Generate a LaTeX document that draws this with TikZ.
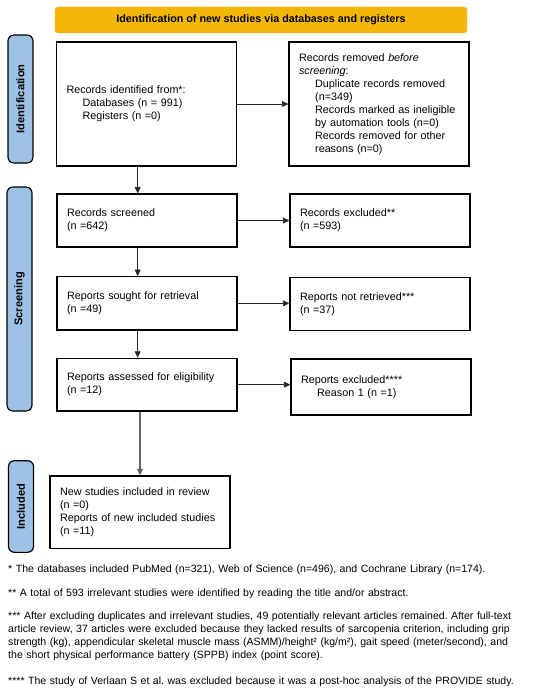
\documentclass[tikz,border=0pt]{standalone}
\usepackage{fontspec}
\setmainfont{Liberation Sans}
\usetikzlibrary{arrows.meta}
\definecolor{headgold}{RGB}{243,183,8}
\definecolor{headedge}{RGB}{222,176,60}
\definecolor{sideblue}{RGB}{158,194,229}
\newcommand{\ind}{\hspace*{1.5em}}
\frenchspacing
\begin{document}
\begin{tikzpicture}[
    txt/.style={font=\fontsize{9.2}{11.1}\selectfont},
    box/.style={txt,draw,line width=1pt,text width=4.8cm,inner xsep=0.3cm,
        inner ysep=0.1cm,align=left,minimum height=#1},
    box/.default=1.6cm,
    phase/.style={txt,font=\fontsize{9.5}{11}\selectfont\bfseries,draw,line width=1pt,
        fill=sideblue,rounded corners=0.18cm,rotate=90,minimum height=0.75cm,
        minimum width=#1,inner sep=0},
    note/.style={font=\fontsize{9}{11.1}\selectfont,anchor=base west,text width=16cm,
        align=left,inner sep=0},
    arr/.style={-{Triangle[length=5.5pt,width=5pt]},black!85,line width=0.6pt}]
    \useasboundingbox (0,0) rectangle (16.5,-20.76);
    % header and phase labels
    \node[txt,font=\fontsize{9.2}{11}\selectfont\bfseries,fill=headgold,draw=headedge,
        rounded corners=0.1cm,minimum width=12.36cm,minimum height=0.78cm,inner sep=0]
        (head) at (7.83,-0.6) {Identification of new studies via databases and registers};
    \node[phase=3.84cm] (lid) at (0.615,-2.97) {Identification};
    \node[phase=6.72cm] (lsc) at (0.585,-8.97) {Screening};
    \node[phase=2.75cm] (linc) at (0.63,-15.195) {Included};
    % left column
    \node[box=3.72cm] (b1) at (4.395,-3.12)
        {Records identified from*:\\ \ind Databases (n = 991)\\ \ind Registers (n =0)};
    \node[box=1.59cm] (b3) at (4.41,-6.615) {Records screened\\ (n =642)};
    \node[box] (b5) at (4.41,-9.1) {Reports sought for retrieval\\ (n =49)};
    \node[box=1.58cm] (b7) at (4.41,-11.54) {Reports assessed for eligibility\\ (n =12)};
    \node[box=2.18cm] (b9) at (4.2,-15.37)
        {New studies included in review\\ (n =0)\\ Reports of new included studies\\ (n =11)};
    % right column
    \node[box=3.72cm] (b2) at (11.37,-3.12)
        {Records removed \textit{before}\\ \textit{screening}:\\ \ind Duplicate records removed\\
        \ind (n=349)\\ \ind Records marked as ineligible\\ \ind by automation tools (n=0)\\
        \ind Records removed for other\\ \ind reasons (n=0)};
    \node[box=1.59cm] (b4) at (11.4,-6.615) {Records excluded**\\ (n =593)};
    \node[box] (b6) at (11.4,-9.125) {Reports not retrieved***\\ (n =37)};
    \node[box=1.68cm] (b8) at (11.43,-11.61) {Reports excluded****\\ \ind Reason 1 (n =1)};
    % connectors
    \coordinate (col) at (4.13,0);
    \draw[arr] (b1.south -| col) -- (b3.north -| col);
    \draw[arr] (b3.south -| col) -- (b5.north -| col);
    \draw[arr] (b5.south -| col) -- (b7.north -| col);
    \draw[arr,black!60,line width=0.9pt] (b7.south -| b9.north) -- (b9.north);
    \draw[arr] (b1.east) -- (b1.east -| b2.west);
    \draw[arr] (b3.east) -- (b3.east -| b4.west);
    \draw[arr] (b5.east) -- (b5.east -| b6.west);
    \draw[arr] (b7.east) -- (b7.east -| b8.west);
    % footnotes
    \node[note] (n1) at (0.24,-17.16)
        {* The databases included PubMed (n=321), Web of Science (n=496), and Cochrane Library (n=174).};
    \node[note] (n2) at (0.24,-17.88)
        {** A total of 593 irrelevant studies were identified by reading the title and/or abstract.};
    \node[note] (n3) at (0.24,-18.57)
        {*** After excluding duplicates and irrelevant studies, 49 potentially relevant articles remained. After full-text\\
        article review, 37 articles were excluded because they lacked results of sarcopenia criterion, including grip\\
        strength (kg), appendicular skeletal muscle mass (ASMM)/height² (kg/m²), gait speed (meter/second), and\\
        the short physical performance battery (SPPB) index (point score).};
    \node[note] (n4) at (0.24,-20.52)
        {**** The study of Verlaan S et al. was excluded because it was a post-hoc analysis of the PROVIDE study.};
\end{tikzpicture}
\end{document}
